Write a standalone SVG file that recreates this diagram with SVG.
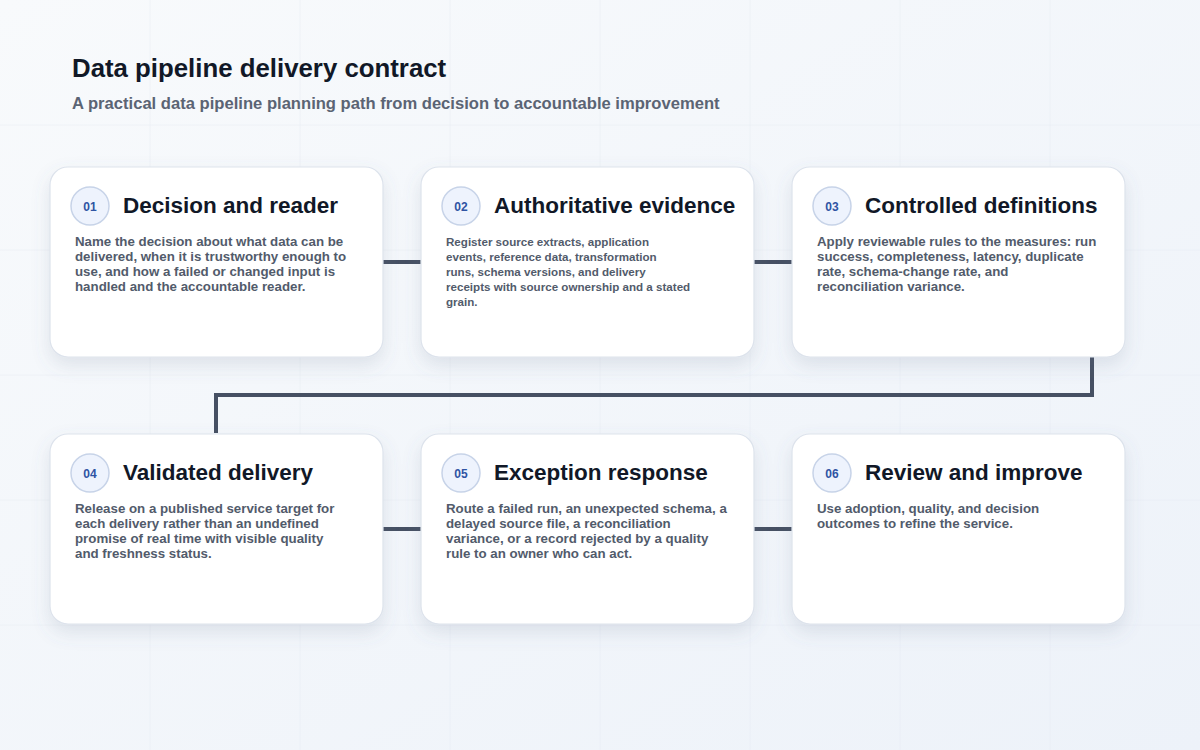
<svg xmlns="http://www.w3.org/2000/svg" width="1200" height="750" viewBox="0 0 1200 750">
  <defs>
    <linearGradient id="bg" x1="0" y1="0" x2="1" y2="1">
      <stop offset="0" stop-color="#f8fafc"/>
      <stop offset="1" stop-color="#edf2f9"/>
    </linearGradient>
    <filter id="shadow" x="-20%" y="-20%" width="140%" height="150%">
      <feDropShadow dx="0" dy="8" stdDeviation="9" flood-color="#64748b" flood-opacity="0.16"/>
    </filter>
    <style>
      .grid { stroke: #e5eaf2; stroke-width: 1; opacity: 0.45; }
      .card { fill: #ffffff; stroke: #dde3ec; stroke-width: 1.2; filter: url(#shadow); }
      .badge { fill: #eef3fd; stroke: #c7d3e8; stroke-width: 1.5; }
      .num { font-family: "Liberation Sans", Arial, sans-serif; font-size: 12px; font-weight: 700; fill: #2f54a3; text-anchor: middle; }
      .title { font-family: "Liberation Sans", Arial, sans-serif; font-size: 22.5px; font-weight: 700; fill: #111827; }
      .body { font-family: "Liberation Sans", Arial, sans-serif; font-size: 13.3px; font-weight: 700; fill: #525b6b; }
      .body-sm { font-family: "Liberation Sans", Arial, sans-serif; font-size: 11.6px; font-weight: 700; fill: #525b6b; }
      .conn { fill: none; stroke: #465063; stroke-width: 4; }
      .h1 { font-family: "Liberation Sans", Arial, sans-serif; font-size: 25.8px; font-weight: 700; fill: #111827; }
      .h2 { font-family: "Liberation Sans", Arial, sans-serif; font-size: 16.6px; font-weight: 700; fill: #5b6474; }
    </style>
  </defs>

  <rect width="1200" height="750" fill="url(#bg)"/>
  <g id="grid">
    <line class="grid" x1="150" y1="0" x2="150" y2="750"/>
    <line class="grid" x1="300" y1="0" x2="300" y2="750"/>
    <line class="grid" x1="450" y1="0" x2="450" y2="750"/>
    <line class="grid" x1="600" y1="0" x2="600" y2="750"/>
    <line class="grid" x1="750" y1="0" x2="750" y2="750"/>
    <line class="grid" x1="900" y1="0" x2="900" y2="750"/>
    <line class="grid" x1="1050" y1="0" x2="1050" y2="750"/>
    <line class="grid" x1="0" y1="125" x2="1200" y2="125"/>
    <line class="grid" x1="0" y1="250" x2="1200" y2="250"/>
    <line class="grid" x1="0" y1="375" x2="1200" y2="375"/>
    <line class="grid" x1="0" y1="500" x2="1200" y2="500"/>
    <line class="grid" x1="0" y1="625" x2="1200" y2="625"/>
  </g>

  <g id="header">
    <text class="h1" x="72" y="77">Data pipeline delivery contract</text>
    <text class="h2" x="72" y="109">A practical data pipeline planning path from decision to accountable improvement</text>
  </g>

  <g id="connectors">
    <line class="conn" x1="383" y1="262" x2="421" y2="262"/>
    <line class="conn" x1="754" y1="262" x2="792" y2="262"/>
    <path class="conn" d="M1092 357 V395 H216 V433"/>
    <line class="conn" x1="383" y1="529" x2="421" y2="529"/>
    <line class="conn" x1="754" y1="529" x2="792" y2="529"/>
  </g>

  <g id="node-01">
    <rect class="card" x="50" y="167" width="333" height="190" rx="18"/>
    <circle class="badge" cx="90" cy="206" r="19"/>
    <text class="num" x="90" y="210.5">01</text>
    <text class="title" x="123" y="213">Decision and reader</text>
    <text class="body" x="75" y="246">Name the decision about what data can be</text>
    <text class="body" x="75" y="261">delivered, when it is trustworthy enough to</text>
    <text class="body" x="75" y="276">use, and how a failed or changed input is</text>
    <text class="body" x="75" y="291">handled and the accountable reader.</text>
  </g>

  <g id="node-02">
    <rect class="card" x="421" y="167" width="333" height="190" rx="18"/>
    <circle class="badge" cx="461" cy="206" r="19"/>
    <text class="num" x="461" y="210.5">02</text>
    <text class="title" x="494" y="213">Authoritative evidence</text>
    <text class="body-sm" x="446" y="246">Register source extracts, application</text>
    <text class="body-sm" x="446" y="261">events, reference data, transformation</text>
    <text class="body-sm" x="446" y="276">runs, schema versions, and delivery</text>
    <text class="body-sm" x="446" y="291">receipts with source ownership and a stated</text>
    <text class="body-sm" x="446" y="306">grain.</text>
  </g>

  <g id="node-03">
    <rect class="card" x="792" y="167" width="333" height="190" rx="18"/>
    <circle class="badge" cx="832" cy="206" r="19"/>
    <text class="num" x="832" y="210.5">03</text>
    <text class="title" x="865" y="213">Controlled definitions</text>
    <text class="body" x="817" y="246">Apply reviewable rules to the measures: run</text>
    <text class="body" x="817" y="261">success, completeness, latency, duplicate</text>
    <text class="body" x="817" y="276">rate, schema-change rate, and</text>
    <text class="body" x="817" y="291">reconciliation variance.</text>
  </g>

  <g id="node-04">
    <rect class="card" x="50" y="434" width="333" height="190" rx="18"/>
    <circle class="badge" cx="90" cy="473" r="19"/>
    <text class="num" x="90" y="477.5">04</text>
    <text class="title" x="123" y="480">Validated delivery</text>
    <text class="body" x="75" y="513">Release on a published service target for</text>
    <text class="body" x="75" y="528">each delivery rather than an undefined</text>
    <text class="body" x="75" y="543">promise of real time with visible quality</text>
    <text class="body" x="75" y="558">and freshness status.</text>
  </g>

  <g id="node-05">
    <rect class="card" x="421" y="434" width="333" height="190" rx="18"/>
    <circle class="badge" cx="461" cy="473" r="19"/>
    <text class="num" x="461" y="477.5">05</text>
    <text class="title" x="494" y="480">Exception response</text>
    <text class="body" x="446" y="513">Route a failed run, an unexpected schema, a</text>
    <text class="body" x="446" y="528">delayed source file, a reconciliation</text>
    <text class="body" x="446" y="543">variance, or a record rejected by a quality</text>
    <text class="body" x="446" y="558">rule to an owner who can act.</text>
  </g>

  <g id="node-06">
    <rect class="card" x="792" y="434" width="333" height="190" rx="18"/>
    <circle class="badge" cx="832" cy="473" r="19"/>
    <text class="num" x="832" y="477.5">06</text>
    <text class="title" x="865" y="480">Review and improve</text>
    <text class="body" x="817" y="513">Use adoption, quality, and decision</text>
    <text class="body" x="817" y="528">outcomes to refine the service.</text>
  </g>
</svg>
